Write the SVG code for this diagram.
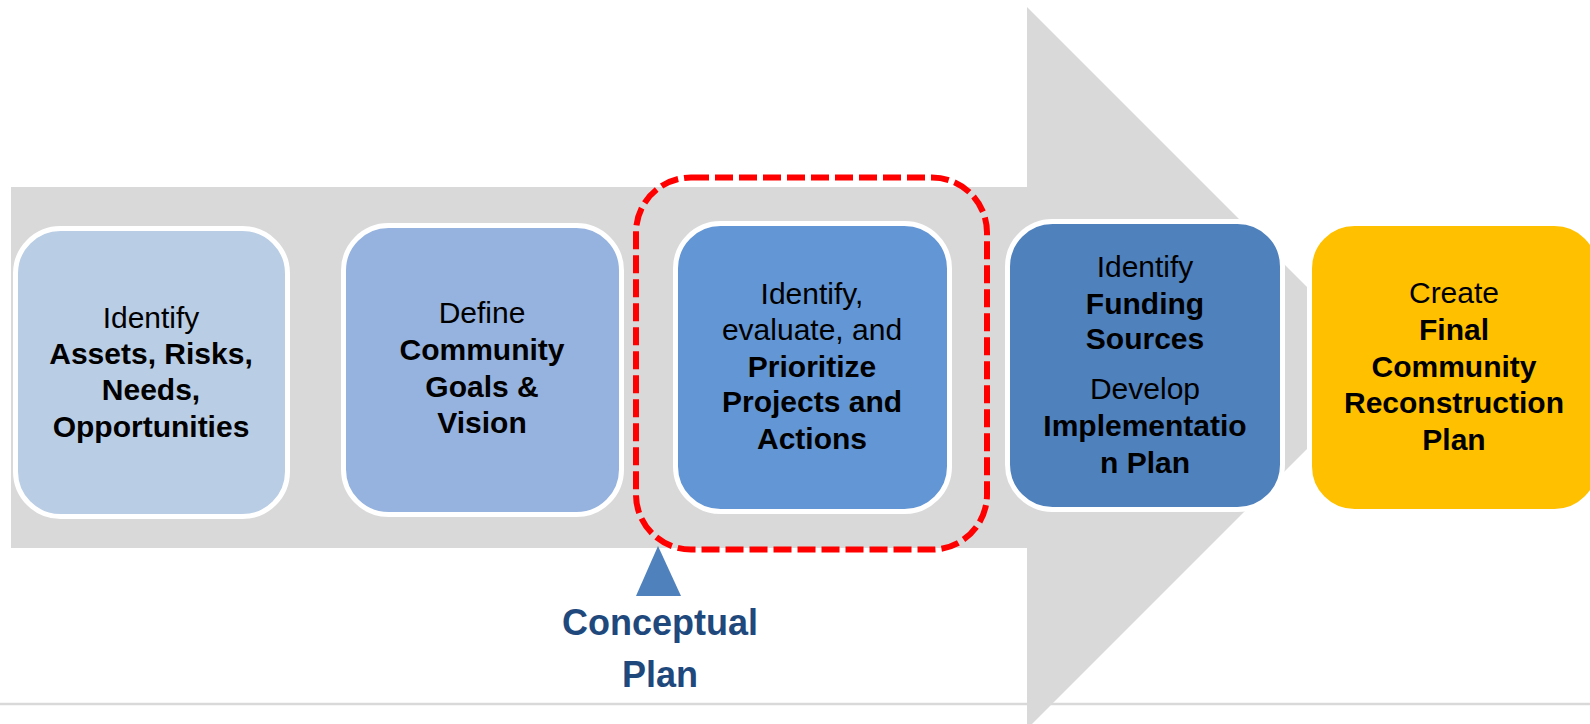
<svg xmlns="http://www.w3.org/2000/svg" width="1590" height="724" viewBox="0 0 1590 724">
<style>
.box{stroke:#ffffff;stroke-width:5}
.t{font-family:"Liberation Sans",Arial,sans-serif;font-size:30px;fill:#000;text-anchor:middle}
.b{font-weight:bold}
.cp{font-family:"Liberation Sans",Arial,sans-serif;font-size:36px;font-weight:bold;fill:#1f497d;text-anchor:middle}
</style>
<rect x="0" y="0" width="1590" height="724" fill="#ffffff"/>
<g id="big-arrow">
<polygon points="11,187 1027,187 1027,7 1388,368 1027,729 1027,548 11,548" fill="#d9d9d9"/>
</g>
<line x1="0" y1="704" x2="1590" y2="704" stroke="#d9d9d9" stroke-width="2.5"/>
<g id="node1">
<rect class="box" x="15.5" y="228.5" width="272" height="288" rx="45" fill="#b9cde5"/>
<text class="t" x="151" y="328">Identify</text>
<text class="t b" x="151" y="364">Assets, Risks,</text>
<text class="t b" x="151" y="400">Needs,</text>
<text class="t b" x="151" y="437">Opportunities</text>
</g>
<g id="node2">
<rect class="box" x="343.5" y="225.5" width="278" height="289" rx="45" fill="#95b3de"/>
<text class="t" x="482" y="323">Define</text>
<text class="t b" x="482" y="360">Community</text>
<text class="t b" x="482" y="397">Goals &amp;</text>
<text class="t b" x="482" y="433">Vision</text>
</g>
<g id="node3">
<rect class="box" x="675.5" y="223.5" width="274" height="288" rx="45" fill="#6396d4"/>
<text class="t" x="812" y="304">Identify,</text>
<text class="t" x="812" y="340">evaluate, and</text>
<text class="t b" x="812" y="377">Prioritize</text>
<text class="t b" x="812" y="412">Projects and</text>
<text class="t b" x="812" y="449">Actions</text>
</g>
<g id="node4">
<rect class="box" x="1007.5" y="221.5" width="275" height="288" rx="45" fill="#4f81bd"/>
<text class="t" x="1145" y="277">Identify</text>
<text class="t b" x="1145" y="314">Funding</text>
<text class="t b" x="1145" y="349">Sources</text>
<text class="t" x="1145" y="399">Develop</text>
<text class="t b" x="1145" y="436">Implementatio</text>
<text class="t b" x="1145" y="473">n Plan</text>
</g>
<g id="node5">
<rect class="box" x="1309.5" y="223.5" width="290" height="288" rx="45" fill="#ffc000"/>
<text class="t" x="1454" y="303">Create</text>
<text class="t b" x="1454" y="340">Final</text>
<text class="t b" x="1454" y="377">Community</text>
<text class="t b" x="1454" y="413">Reconstruction</text>
<text class="t b" x="1454" y="450">Plan</text>
</g>
<g id="highlight">
<rect x="636" y="177.5" width="351" height="372" rx="55" fill="none" stroke="#ff0000" stroke-width="6" stroke-dasharray="18 6"/>
</g>
<g id="conceptual-plan">
<polygon points="658,546 681,596 636,596" fill="#4f81bd"/>
<text class="cp" x="660" y="635">Conceptual</text>
<text class="cp" x="660" y="687">Plan</text>
</g>
</svg>
